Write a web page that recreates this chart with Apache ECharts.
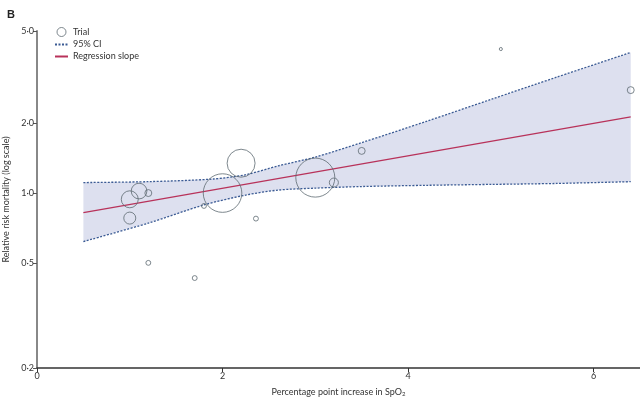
<!DOCTYPE html>
<html>
<head>
<meta charset="utf-8">
<script src="https://cdn.jsdelivr.net/npm/echarts@6/dist/echarts.min.js"></script>
<style>
  html, body { margin: 0; padding: 0; background: #fff; }
  #main { width: 640px; height: 399px; }
</style>
</head>
<body>
<div id="main"></div>
<script>
// trials: SpO2 increase, relative risk of mortality, weight (%)
var trialX = [1.0, 1.1, 1.2, 1.0, 1.2, 1.8, 2.0, 2.2, 2.36, 1.7, 3.0, 3.2, 3.5, 5.0, 6.4];
var trialRR = [0.94, 1.02, 1.0, 0.78, 0.5, 0.88, 1.0, 1.345, 0.776, 0.43, 1.166, 1.11, 1.52, 4.18, 2.78];
var trialWeight = [6.0, 5.1, 1.0, 3.0, 0.5, 0.5, 31, 16.3, 0.5, 0.5, 31.7, 1.7, 1.0, 0.2, 1.0];

// regression slope (end points)
var regX = [0.5, 6.4];
var regY = [0.824, 2.13];

// 95% CI bounds
var upperX = [0.5, 1.2, 1.9, 2.25, 2.6, 3.0, 3.5, 4.2, 4.9, 5.6, 6.4];
var upperY = [1.11, 1.12, 1.15, 1.2, 1.31, 1.43, 1.65, 2.04, 2.54, 3.16, 4.04];
var lowerX = [0.5, 1.2, 1.8, 2.25, 2.6, 3.0, 3.5, 4.2, 4.9, 5.6, 6.4];
var lowerY = [0.618, 0.742, 0.889, 0.98, 1.03, 1.05, 1.067, 1.08, 1.09, 1.10, 1.12];

// axis ticks
var xTicks = [0, 2, 4, 6];
var yTicks = [0.176, 0.5, 1, 2, 5];

function pairs(xs, ys) {
  return xs.map(function (x, i) { return [x, ys[i]]; });
}

var font = 'Lato, sans-serif';
var chart = echarts.init(document.getElementById('main'));

var option = {
  animation: false,
  title: {
    text: 'B',
    left: 2,
    top: 4,
    textStyle: { fontSize: 11, fontWeight: 'bold', color: '#222', fontFamily: 'Liberation Sans' }
  },
  legend: {
    orient: 'vertical',
    left: 49,
    top: 22,
    itemWidth: 13,
    itemHeight: 9,
    itemGap: 3,
    textStyle: { fontSize: 9, color: '#333', fontFamily: font },
    data: [
      { name: 'Trial', itemStyle: { borderWidth: 1 } },
      { name: '95% CI', itemStyle: { opacity: 0 } },
      { name: 'Regression slope', itemStyle: { opacity: 0 } }
    ]
  },
  grid: {
    left: 37,
    right: 0,
    top: 31,
    bottom: 31,
    containLabel: false,
    outerBoundsMode: 'none'
  },
  xAxis: {
    type: 'value',
    min: 0,
    max: 6.5,
    name: 'Percentage point increase in SpO{sub|2}',
    nameLocation: 'middle',
    nameGap: 19,
    nameTextStyle: {
      fontSize: 9, color: '#333', fontFamily: font,
      rich: { sub: { fontSize: 6, verticalAlign: 'bottom', padding: [4, 0, 0, 0], fontFamily: font, color: '#333' } }
    },
    axisLine: { lineStyle: { color: '#333', width: 1.5 } },
    axisTick: { customValues: xTicks, length: 4, lineStyle: { color: '#333' } },
    axisLabel: { customValues: xTicks, fontSize: 9, color: '#333', margin: 4, fontFamily: font },
    splitLine: { show: false }
  },
  yAxis: {
    type: 'log',
    logBase: 10,
    min: 0.176,
    max: 5,
    name: 'Relative risk mortality (log scale)',
    nameLocation: 'middle',
    nameGap: 26,
    nameTextStyle: { fontSize: 9, color: '#333', fontFamily: font },
    axisLine: { lineStyle: { color: '#888', width: 2 } },
    axisTick: { customValues: yTicks, length: 4, lineStyle: { color: '#555' } },
    axisLabel: {
      customValues: yTicks,
      fontSize: 9,
      color: '#333',
      margin: 3,
      fontFamily: font,
      formatter: function (v) {
        return v < 0.19 ? '0·2' : Number(v).toFixed(1).replace('.', '·');
      }
    },
    splitLine: { show: false }
  },
  series: [
    {
      name: 'band',
      type: 'custom',
      z: 1,
      silent: true,
      data: [[upperX[0], upperY[0]]],
      renderItem: function (params, api) {
        var pts = [];
        for (var i = 0; i < upperX.length; i++) pts.push(api.coord([upperX[i], upperY[i]]));
        for (var j = lowerX.length - 1; j >= 0; j--) pts.push(api.coord([lowerX[j], lowerY[j]]));
        return {
          type: 'polygon',
          shape: { points: pts },
          style: { fill: '#dde0ef' }
        };
      }
    },
    {
      name: '95% CI',
      type: 'line',
      z: 3,
      symbol: 'none',
      smooth: 0.3,
      data: pairs(upperX, upperY),
      itemStyle: { color: '#3b5b94' },
      lineStyle: { color: '#3b5b94', width: 1.3, type: [2, 1.5] }
    },
    {
      name: '95% CI',
      type: 'line',
      z: 3,
      symbol: 'none',
      smooth: 0.3,
      data: pairs(lowerX, lowerY),
      itemStyle: { color: '#3b5b94' },
      lineStyle: { color: '#3b5b94', width: 1.3, type: [2, 1.5] }
    },
    {
      name: 'Regression slope',
      type: 'line',
      z: 4,
      symbol: 'none',
      data: pairs(regX, regY),
      itemStyle: { color: '#b8325a' },
      lineStyle: { color: '#b8325a', width: 1.3 }
    },
    {
      name: 'Trial',
      type: 'scatter',
      z: 5,
      symbol: 'circle',
      symbolSize: function (val, params) {
        return 6.93 * Math.sqrt(trialWeight[params.dataIndex]);
      },
      data: pairs(trialX, trialRR),
      itemStyle: { color: 'rgba(0,0,0,0)', borderColor: '#5e6a72', borderWidth: 1 }
    }
  ]
};

chart.setOption(option);
</script>
</body>
</html>
